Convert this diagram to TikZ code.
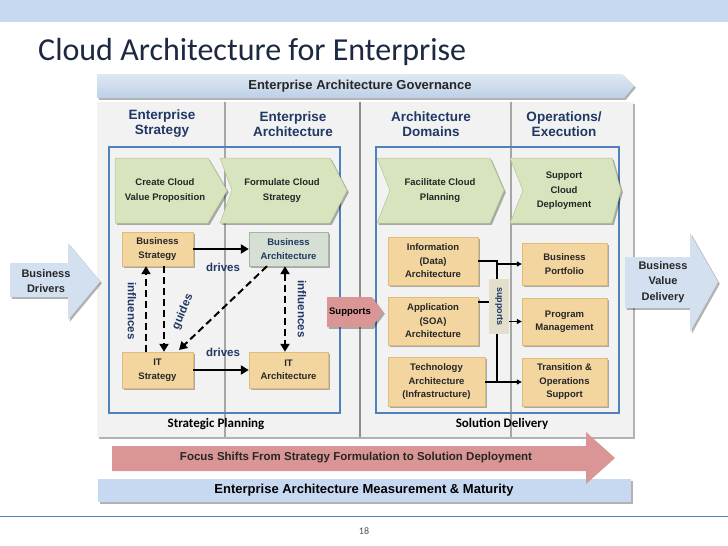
\documentclass[tikz,border=0pt]{standalone}
\usepackage{fontspec}
\setmainfont{Liberation Sans}
\newfontfamily\calib{Carlito}
\usetikzlibrary{shadows,arrows.meta}
\definecolor{bandblue}{HTML}{C6D9F1}
\definecolor{govtop}{HTML}{DFE8F3}
\definecolor{govbot}{HTML}{BDD0E7}
\definecolor{titlecol}{HTML}{1C2940}
\definecolor{navy}{HTML}{1F3864}
\definecolor{panelgray}{HTML}{F2F2F2}
\definecolor{divgray}{HTML}{A6A6A6}
\definecolor{rectblue}{HTML}{4F81BD}
\definecolor{chevfill}{HTML}{D7E4BD}
\definecolor{chevedge}{HTML}{B3C78D}
\definecolor{tanfill}{HTML}{F2D59F}
\definecolor{tanedge}{HTML}{E0BC78}
\definecolor{sage}{HTML}{D5DFD3}
\definecolor{supfill}{HTML}{E4DFCB}
\definecolor{pinkfill}{HTML}{D99694}
\definecolor{textdark}{HTML}{262626}
\definecolor{lineblue}{HTML}{5A7FB5}
\definecolor{arrowblue}{HTML}{D3E0F0}
\newcommand\myfs[2]{\fontsize{#1}{#2}\selectfont}
\begin{document}
\begin{tikzpicture}[x=1pt,y=-1pt,
  softshadow/.style={drop shadow={shadow xshift=1.8pt,shadow yshift=-1.8pt,opacity=.3,fill=black}},
  tanbox/.style={softshadow,fill=tanfill,draw=tanedge,line width=.4pt,inner sep=0pt,align=center,
    font=\bfseries\myfs{9.5}{13.5},text=textdark},
  hdr/.style={font=\bfseries\myfs{13.5}{15},text=navy,align=center},
  lbl/.style={font=\bfseries\myfs{11.5}{13},text=navy},
  chevtext/.style={font=\bfseries\myfs{9.5}{15},text=textdark,align=center},
  chev/.style={softshadow,fill=chevfill,draw=chevedge,line width=.5pt},
  bigtext/.style={font=\bfseries\myfs{11}{15.5},text=textdark,align=center},
  solidarr/.style={line width=2.2pt,-{Triangle[length=8pt,width=9pt]}},
  dasharr/.style={line width=2pt,dash pattern=on 7pt off 4pt,-{Triangle[length=8pt,width=9pt]}},
  thinarr/.style={line width=1.2pt,-{Triangle[length=5pt,width=5pt]}},
  thinline/.style={line width=1.2pt}]
\useasboundingbox (0,0) rectangle (728,546);
\fill[white] (0,0) rectangle (728,546);
% top band and title
\fill[bandblue] (0,0) rectangle (728,22);
\node[anchor=base west,font=\calib\myfs{32}{36},text=titlecol,inner sep=0pt] (title) at (38,60) {Cloud Architecture for Enterprise};
% governance band
\path[softshadow,top color=govtop,bottom color=govbot] (97,74) -- (622,74) -- (634,86) -- (624,98) -- (97,98) -- cycle;
\node[font=\bfseries\myfs{13}{15},text=textdark] (gov) at (360,86) {Enterprise Architecture Governance};
% main panel
\fill[panelgray,softshadow] (97,102) rectangle (633,437);
\draw[divgray,line width=1.2pt] (225,102) -- (225,437);
\draw[divgray,line width=1.2pt] (511,102) -- (511,437);
\draw[divgray!85!black,line width=2pt] (359.5,102) -- (359.5,437);
% headers
\node[hdr] (h1) at (162,124) {Enterprise\\Strategy};
\node[hdr] (h2) at (293,124) {Enterprise\\Architecture};
\node[hdr] (h3) at (431,124) {Architecture\\Domains};
\node[hdr] (h4) at (564,124) {Operations/\\Execution};
% blue frames
\draw[rectblue,line width=1.3pt] (109,147) rectangle (340,413);
\draw[rectblue,line width=1.3pt] (376,147) rectangle (619,413);
% chevrons
\path[chev] (115,158) -- (208,158) -- (227,190.5) -- (208,223) -- (115,223) -- cycle;
\path[chev] (220,158) -- (330,158) -- (347,190.5) -- (330,223) -- (220,223) -- (232,190.5) -- cycle;
\path[chev] (377,158) -- (490,158) -- (504,190.5) -- (490,223) -- (377,223) -- (390,190.5) -- cycle;
\path[chev] (510,158) -- (612,158) -- (621,190.5) -- (612,223) -- (510,223) -- (523,190.5) -- cycle;
\node[chevtext] (c1) at (165,191) {Create Cloud\\Value Proposition};
\node[chevtext] (c2) at (282,191) {Formulate Cloud\\Strategy};
\node[chevtext] (c3) at (440,191) {Facilitate Cloud\\Planning};
\node[chevtext,font=\bfseries\myfs{9.5}{14.5}] (c4) at (564,191) {Support\\Cloud\\Deployment};
% left boxes
\node[tanbox,minimum width=71pt,minimum height=34pt] (bs) at (157.5,249) {Business\\Strategy};
\node[tanbox,fill=sage,draw=sage!80!black,text=navy,minimum width=79pt,minimum height=34pt] (ba) at (288.5,249) {Business\\Architecture};
\node[tanbox,minimum width=71pt,minimum height=36pt] (its) at (157.5,370) {IT\\Strategy};
\node[tanbox,minimum width=79pt,minimum height=36pt] (ita) at (288.5,370) {IT\\Architecture};
% left arrows
\draw[solidarr] (bs.east) -- (ba.west);
\draw[solidarr] (its.east) -- (ita.west);
\draw[dasharr] (146,0 |- its.north) -- (146,0 |- bs.south);
\draw[dasharr] (164,0 |- bs.south) -- (164,0 |- its.north);
\draw[dasharr] (267,0 |- ba.south) -- (179,350);
\draw[dasharr,{Triangle[length=8pt,width=9pt]}-{Triangle[length=8pt,width=9pt]}] (285,0 |- ba.south) -- (285,0 |- ita.north);
\node[lbl] (d1) at (223,267) {drives};
\node[lbl] (d2) at (223,352) {drives};
\node[lbl,rotate=-90] (inf1) at (132,311) {influences};
\node[lbl,rotate=-90] (inf2) at (302,309) {influences};
\node[lbl,rotate=67,inner sep=0pt] (gd) at (183,312) {guides};
% supports arrow
\path[softshadow,fill=pinkfill] (327,297) -- (372,297) -- (383,312) -- (372,327) -- (327,327) -- cycle;
\node[font=\bfseries\myfs{9.5}{11},text=black] (sup) at (350,312) {Supports};
% right boxes
\node[tanbox,minimum width=90pt,minimum height=48pt] (info) at (433,261) {Information\\(Data)\\Architecture};
\node[tanbox,minimum width=90pt,minimum height=48pt] (app) at (433,321) {Application\\(SOA)\\Architecture};
\node[tanbox,minimum width=97pt,minimum height=49pt] (tech) at (436.5,382) {Technology\\Architecture\\(Infrastructure)};
\node[tanbox,minimum width=85pt,minimum height=42pt] (bp) at (564.5,264) {Business\\Portfolio};
\node[tanbox,minimum width=85pt,minimum height=47pt] (pm) at (564.5,321.5) {Program\\Management};
\node[tanbox,minimum width=85pt,minimum height=48pt] (tos) at (564.5,382) {Transition \&\\Operations\\Support};
% right connectors
\coordinate (vtop) at (497,261);
\coordinate (vbot) at (497,382);
\draw[thinline] (info.east) -- (vtop) -- (vbot);
\draw[thinline] (app.east |- 0,302) -- (489,302);
\draw[thinline] (tech.east) -- (vbot);
\draw[thinarr] (497,0 |- bp.west) -- (bp.west);
\draw[thinarr] (497,0 |- pm.west) -- (pm.west);
\draw[thinarr] (vbot) -- (tos.west);
\node[fill=supfill,minimum width=20pt,minimum height=55pt,inner sep=0pt] (supbox) at (499,306.5) {};
\node[rotate=-90,font=\bfseries\myfs{9}{10},text=navy] (suptxt) at (supbox.center) {supports};
% side arrows
\path[softshadow,fill=arrowblue] (10,263) -- (68,263) -- (68,243) -- (100,281.5) -- (68,320) -- (68,297) -- (10,297) -- cycle;
\node[bigtext] (bd) at (46,281) {Business\\Drivers};
\path[softshadow,fill=arrowblue] (625,257) -- (690,257) -- (690,233) -- (718,282) -- (690,332) -- (690,308) -- (625,308) -- cycle;
\node[bigtext] (bvd) at (663,282) {Business\\Value\\Delivery};
% bottom labels
\node[font=\calib\bfseries\myfs{13}{15},text=black] (sp) at (216,424) {Strategic Planning};
\node[font=\calib\bfseries\myfs{13}{15},text=black] (sd) at (502,424) {Solution Delivery};
% measurement band
\fill[bandblue,softshadow] (98,479) rectangle (631,502);
\node[font=\bfseries\myfs{13}{15},text=black] (meas) at (364,490.5) {Enterprise Architecture Measurement \& Maturity};
% focus arrow
\path[fill=pinkfill] (112,446) -- (586,446) -- (586,432) -- (615,458) -- (586,484) -- (586,471) -- (112,471) -- cycle;
\node[font=\bfseries\myfs{11.5}{13},text=textdark] (focus) at (356,458) {Focus Shifts From Strategy Formulation to Solution Deployment};
% footer
\draw[lineblue,line width=1pt] (0,516) -- (728,516);
\node[font=\calib\myfs{10}{11},text=textdark!80] (pg) at (364,531) {18};
\end{tikzpicture}
\end{document}
